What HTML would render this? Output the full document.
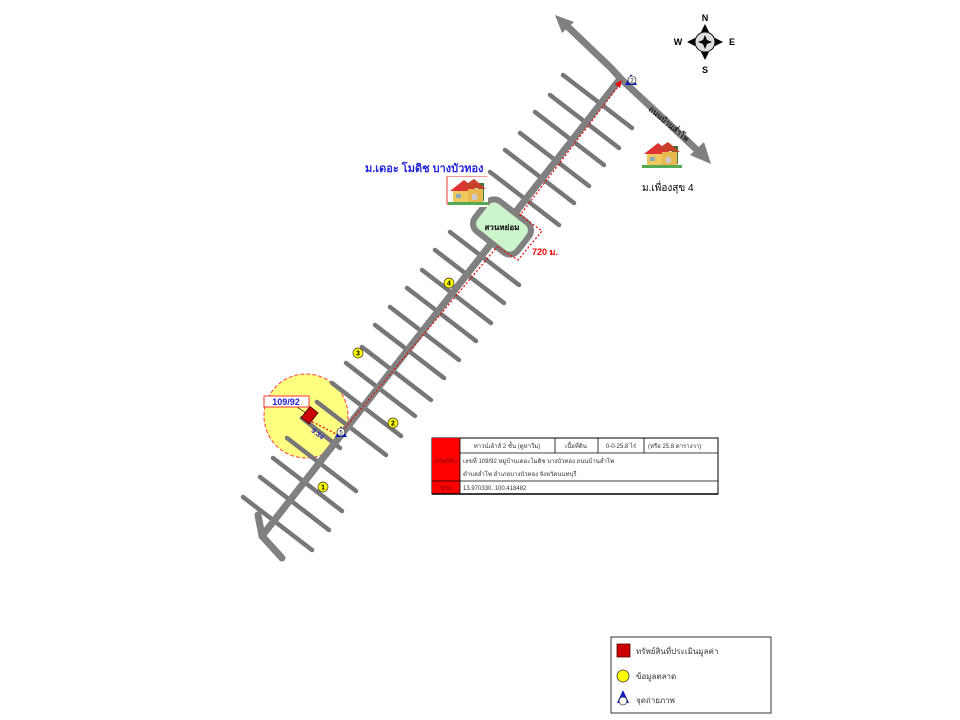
<!DOCTYPE html>
<html><head><meta charset="utf-8"><style>
html,body{margin:0;padding:0;background:#fff;}
body{width:960px;height:720px;overflow:hidden;position:relative;font-family:"Liberation Sans","Noto Sans CJK SC",sans-serif;}
</style></head><body>
<svg width="960" height="720" viewBox="0 0 960 720" xmlns="http://www.w3.org/2000/svg" style="position:absolute;left:0;top:0">
<defs>
<g id="house">
<rect x="0" y="0" width="40" height="30" fill="#fff"/>
<rect x="30" y="6" width="6" height="18" fill="#3a7a3a"/>
<polygon points="2,14 16,3 30,14" fill="#d33"/>
<polygon points="14,10 26,2 38,12" fill="#c84028"/>
<rect x="5" y="14" width="24" height="12" fill="#f0c860"/>
<rect x="20" y="12" width="15" height="14" fill="#e8b850"/>
<rect x="8" y="17" width="5" height="4" fill="#8ab"/>
<rect x="24" y="17" width="5" height="6" fill="#ccc"/>
<rect x="0" y="25" width="40" height="3" fill="#5a5"/>
</g>
</defs>
<circle cx="306" cy="416" r="42" fill="#ffff80" stroke="#ff4040" stroke-width="1" stroke-dasharray="4,2"/>
<g stroke="#808080" stroke-width="7" fill="none" stroke-linecap="round" stroke-linejoin="round">
<polyline points="566,25 611,68 622,80 697,150"/>
<polyline points="258,515 262,536 282,558"/>
</g>
<polygon points="555,15 574,22 562,33" fill="#808080"/>
<polygon points="711,164 704,142 690,155" fill="#808080"/>
<g id="streets" stroke="#777" stroke-width="4.5" stroke-linecap="round"></g>
<line x1="262" y1="536" x2="620" y2="79" stroke="#808080" stroke-width="7" stroke-linecap="round"/>
<g transform="translate(502,227) rotate(38)">
<rect x="-27" y="-19" width="54" height="38" rx="10" fill="#ccf5cc" stroke="#808080" stroke-width="6"/>
</g>
<text x="502" y="230" font-size="8" font-weight="bold" text-anchor="middle" fill="#000">สวนหย่อม</text>
<polyline points="340,434 497,247 518,260 542,231 520,215 620,84" fill="none" stroke="#e00" stroke-width="1.2" stroke-dasharray="2,2"/>
<polyline points="305,418 336,434" fill="none" stroke="#e00" stroke-width="1.2" stroke-dasharray="2,2"/>
<polygon points="622,80 615,84 620,88" fill="#e00"/>
<text x="532" y="255" font-size="9" font-weight="bold" fill="#e00">720 ม.</text>
<g transform="translate(309,416) rotate(38)"><rect x="-5" y="-8" width="10" height="14" fill="#c00" stroke="#500" stroke-width="1"/></g>
<line x1="297" y1="407" x2="306" y2="413" stroke="#000" stroke-width="0.7"/>
<rect x="264" y="396" width="45" height="11" fill="#fff" stroke="#e33" stroke-width="1"/>
<text x="286" y="405" font-size="9" font-weight="bold" text-anchor="middle" fill="#22c">109/92</text>
<text x="312" y="436" font-size="7" font-weight="bold" fill="#22c" transform="rotate(38 318 432)">9.34</text>
<polygon points="335,437 341,426 347,437" fill="#1020c0"/>
<circle cx="341" cy="432" r="4" fill="#fff" stroke="#000" stroke-width="0.6"/>
<text x="341" y="434.5" font-size="6" text-anchor="middle">5</text>
<polygon points="625,85 631,74 637,85" fill="#1020c0"/>
<circle cx="632" cy="80" r="4" fill="#fff" stroke="#000" stroke-width="0.6"/>
<text x="632" y="82.5" font-size="6" text-anchor="middle">2</text>
<g font-size="7" text-anchor="middle" font-weight="bold">
<circle cx="323" cy="487" r="5" fill="#ff0" stroke="#333" stroke-width="0.7"/><text x="323" y="489.5">1</text>
<circle cx="393" cy="423" r="5" fill="#ff0" stroke="#333" stroke-width="0.7"/><text x="393" y="425.5">2</text>
<circle cx="358" cy="353" r="5" fill="#ff0" stroke="#333" stroke-width="0.7"/><text x="358" y="355.5">3</text>
<circle cx="449" cy="283" r="5" fill="#ff0" stroke="#333" stroke-width="0.7"/><text x="449" y="285.5">4</text>
</g>
<text x="365" y="172" font-size="11" font-weight="bold" fill="#22d">ม.เดอะ โมดิช บางบัวทอง</text>
<rect x="447" y="177" width="40" height="27" fill="#fff" stroke="#e33" stroke-width="1"/>
<use href="#house" x="448" y="177"/>
<use href="#house" x="642" y="140"/>
<text x="642" y="191" font-size="10" fill="#000">ม.เพื่องสุข 4</text>
<text x="648" y="110" font-size="8" font-weight="bold" fill="#222" transform="rotate(40 648 110)">ถนนบ้านล่ำโพ</text>
<g transform="translate(705,42)">
<circle r="10" fill="#ddd" stroke="#000" stroke-width="1"/>
<polygon points="0,-18 4,-10 -4,-10" fill="#000"/><polygon points="0,18 4,10 -4,10" fill="#000"/>
<polygon points="-18,0 -10,4 -10,-4" fill="#000"/><polygon points="18,0 10,4 10,-4" fill="#000"/>
<polygon points="0,-7 2,-2 7,0 2,2 0,7 -2,2 -7,0 -2,-2" fill="#000"/>
<text x="0" y="-21" font-size="9" font-weight="bold" text-anchor="middle">N</text>
<text x="0" y="31" font-size="9" font-weight="bold" text-anchor="middle">S</text>
<text x="-27" y="3" font-size="9" font-weight="bold" text-anchor="middle">W</text>
<text x="27" y="3" font-size="9" font-weight="bold" text-anchor="middle">E</text>
</g>
<g font-size="6" fill="#333">
<rect x="432" y="438" width="286" height="56" fill="#fff" stroke="#000" stroke-width="1"/>
<rect x="432" y="438" width="28" height="43" fill="#f00"/>
<rect x="432" y="481" width="28" height="13" fill="#f00"/>
<g stroke="#000" stroke-width="0.8">
<line x1="460" y1="438" x2="460" y2="494"/>
<line x1="460" y1="453" x2="718" y2="453"/>
<line x1="432" y1="481" x2="718" y2="481"/>
<line x1="555" y1="438" x2="555" y2="453"/>
<line x1="598" y1="438" x2="598" y2="453"/>
<line x1="644" y1="438" x2="644" y2="453"/>
<line x1="432" y1="494" x2="718" y2="494" stroke-width="1.5"/>
</g>
<text x="507" y="448" text-anchor="middle">ทาวน์เฮ้าส์ 2 ชั้น (ดูหาวีม)</text>
<text x="576" y="448" text-anchor="middle">เนื้อที่ดิน</text>
<text x="621" y="448" text-anchor="middle">0-0-25.8 ไร่</text>
<text x="648" y="448">(หรือ 25.8 ตารางวา)</text>
<text x="463" y="463">เลขที่ 109/92 หมู่บ้านเดอะโมดิช บางบัวทอง ถนนบ้านล่ำโพ</text>
<text x="463" y="476">ตำบลล่ำโพ อำเภอบางบัวทอง จังหวัดนนทบุรี</text>
<text x="463" y="490">13.970330, 100.418482</text>
<text x="446" y="463" text-anchor="middle" fill="#800">ทรัพย์สิน</text>
<text x="446" y="490" text-anchor="middle" fill="#800">พิกัด</text>
</g>
<rect x="611" y="637" width="160" height="76" fill="#fff" stroke="#333" stroke-width="1"/>
<rect x="617" y="644" width="13" height="13" fill="#c00" stroke="#500" stroke-width="0.8"/>
<text x="636" y="654" font-size="8" fill="#333">ทรัพย์สินที่ประเมินมูลค่า</text>
<circle cx="623" cy="676" r="6" fill="#ff0" stroke="#333" stroke-width="0.8"/>
<text x="636" y="679" font-size="8" fill="#333">ข้อมูลตลาด</text>
<polygon points="617,703 623,690 629,703" fill="#1020c0"/>
<circle cx="623" cy="701" r="4" fill="#fff" stroke="#000" stroke-width="0.6"/>
<text x="636" y="703" font-size="8" fill="#333">จุดถ่ายภาพ</text>
</svg>
<script>
var s=[[563,75],[550,95],[535,112],[520,133],[505,150],[490,172],[450,232],[435,250],[422,270],[407,288],[390,307],[375,325],[362,347],[346,363],[332,383],[317,402],[287,438],[273,458],[260,477],[243,497]];
var g=document.getElementById('streets'),h='';
s.forEach(function(p){h+='<line x1="'+p[0]+'" y1="'+p[1]+'" x2="'+(p[0]+69)+'" y2="'+(p[1]+53)+'"/>';});
h+='<line x1="302" y1="418" x2="340" y2="448"/>';
g.innerHTML=h;
</script>
</body></html>
